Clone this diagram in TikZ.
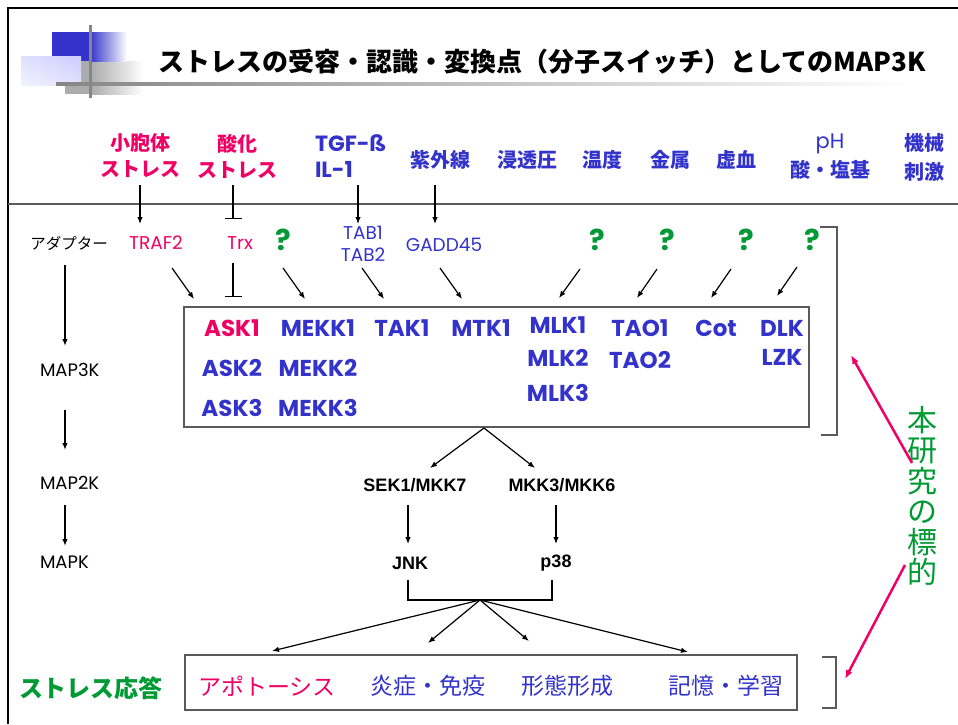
\documentclass[tikz,border=0pt]{standalone}
\usepackage{fontspec}
\setmainfont{Noto Sans CJK JP}
\newfontfamily\jpf{Noto Sans CJK JP}
\newfontfamily\comicf{Poppins}
\newfontfamily\arialf{Liberation Sans}
\usetikzlibrary{arrows.meta,shapes.geometric,shadings}
\definecolor{magc}{RGB}{240,0,100}
\definecolor{bluc}{RGB}{51,51,204}
\definecolor{grnc}{RGB}{0,153,51}
\definecolor{framec}{RGB}{90,90,90}
\tikzset{
  txt/.style={inner sep=0pt, outer sep=0pt},
  stressR/.style={txt, text=magc, align=center, font=\jpf\bfseries\fontsize{20}{26}\selectfont},
  stressB/.style={txt, text=bluc, align=center, font=\jpf\bfseries\fontsize{20}{29}\selectfont},
  adapR/.style={txt, text=magc, align=center, font=\comicf\fontsize{18.5}{22}\selectfont},
  adapB/.style={txt, text=bluc, align=center, font=\comicf\fontsize{18.5}{22}\selectfont},
  qmark/.style={txt, text=grnc, font=\comicf\bfseries\fontsize{29}{30}\selectfont},
  kin/.style={txt, text=bluc, font=\comicf\bfseries\fontsize{23}{24}\selectfont},
  lev/.style={txt, anchor=west, font=\comicf\fontsize{18}{20}\selectfont},
  mkk/.style={txt, font=\arialf\bfseries\fontsize{18}{20}\selectfont},
  resp/.style={txt, font=\jpf\fontsize{23}{26}\selectfont},
  arr/.style={-{Latex[length=7pt,width=5.5pt]}, line width=1.2pt},
  tbar/.style={-{Bar[width=17pt]}, line width=1.2pt},
  pinkarr/.style={-{Latex[length=9pt,width=7pt]}, line width=2.5pt, draw=magc},
  brk/.style={draw=framec, line width=1.5pt},
  kbox/.style={draw=framec, line width=1.5pt, inner sep=0pt},
}
\begin{document}
\begin{tikzpicture}[x=1pt,y=-1pt]
\useasboundingbox (0,0) rectangle (958,724);
% header decoration
\fill[gray!65] (65,61) rectangle (92,94);
\shade[left color=gray!65, right color=white] (92,61) rectangle (143,94);
\fill[bluc] (52,32) rectangle (90,61);
\shade[left color=bluc, right color=white] (90,32) rectangle (127,61);
\shade[lower left=blue!5, upper right=blue!20, lower right=blue!12, upper left=blue!12] (21,56) rectangle (81,85);
\shade[left color=gray!95, right color=white] (56,82.5) rectangle (912,85.5);
\fill[gray!95] (88.5,25) rectangle (91.5,98);
% frame
\draw[line width=2.5pt] (8,724) -- (8,8) -- (958,8);
\draw[line width=1.5pt, draw=framec] (8,204) -- (958,204);
% title
\node[txt, font=\jpf\bfseries\fontsize{26}{30}\selectfont] (title) at (542,62) {ストレスの受容・認識・変換点（分子スイッチ）としてのMAP3K};
% stresses
\node[stressR] (s1) at (140,156) {小胞体\\ストレス};
\node[stressR] (s2) at (237,156) {酸化\\ストレス};
\node[txt, text=bluc, align=left, anchor=west, font=\comicf\bfseries\fontsize{22}{26}\selectfont] (s3) at (315,156) {TGF-ß\\IL-1};
\node[stressB] (s4) at (440,160) {紫外線};
\node[stressB] (s5) at (527,160) {浸透圧};
\node[stressB] (s6) at (602,160) {温度};
\node[stressB] (s7) at (670,160) {金属};
\node[stressB] (s8) at (736,160) {虚血};
\node[stressB] (s9) at (830,157) {{\comicf\mdseries\fontsize{21}{29}\selectfont pH}\\酸・塩基};
\node[stressB] (s10) at (924,157) {機械\\刺激};
% adaptors
\node[txt, font=\jpf\fontsize{15.5}{16}\selectfont] (ad) at (69,243) {アダプター};
\node[adapR] (traf) at (156,243) {TRAF2};
\node[adapR] (trx) at (240,243) {Trx};
\node[qmark] (q1) at (283,240) {?};
\node[adapB] (tab) at (363,244) {TAB1\\TAB2};
\node[adapB] (gadd) at (444,245) {GADD45};
\node[qmark] (q2) at (597,240) {?};
\node[qmark] (q3) at (667,240) {?};
\node[qmark] (q4) at (746,240) {?};
\node[qmark] (q5) at (812,240) {?};
% stress -> adaptor connectors
\coordinate (a1s) at (140,185); \coordinate (a1e) at (140,224);
\coordinate (a2s) at (233,185); \coordinate (a2e) at (233,219);
\coordinate (a3s) at (358,185); \coordinate (a3e) at (358,224);
\coordinate (a4s) at (435,185); \coordinate (a4e) at (435,224);
\draw[arr] (a1s) -- (a1e);
\draw[tbar] (a2s) -- (a2e);
\draw[arr] (a3s) -- (a3e);
\draw[arr] (a4s) -- (a4e);
% MAP3K box
\node[kbox, minimum width=625pt, minimum height=120pt] (box) at (496.5,367) {};
\node[kin, text=magc] (ask1) at (232,328) {ASK1};
\node[kin] (ask2) at (232,368) {ASK2};
\node[kin] (ask3) at (232,408) {ASK3};
\node[kin] (mekk1) at (318,328) {MEKK1};
\node[kin] (mekk2) at (318,368) {MEKK2};
\node[kin] (mekk3) at (318,408) {MEKK3};
\node[kin] (tak) at (402,328) {TAK1};
\node[kin] (mtk) at (481,328) {MTK1};
\node[kin] (mlk1) at (558,325) {MLK1};
\node[kin] (mlk2) at (558,358) {MLK2};
\node[kin] (mlk3) at (558,393) {MLK3};
\node[kin] (tao1) at (640,328) {TAO1};
\node[kin] (tao2) at (640,360) {TAO2};
\node[kin] (cot) at (716,328) {Cot};
\node[kin] (dlk) at (782,328) {DLK};
\node[kin] (lzk) at (782,357) {LZK};
% adaptor -> box connectors
\coordinate (b1s) at (172,268); \coordinate (b1e) at (194,299);
\coordinate (b2s) at (233,263); \coordinate (b2e) at (233,297);
\coordinate (b3s) at (283,268); \coordinate (b3e) at (305,299);
\coordinate (b4s) at (362,268); \coordinate (b4e) at (384,299);
\coordinate (b5s) at (440,268); \coordinate (b5e) at (462,299);
\coordinate (b6s) at (580,269); \coordinate (b6e) at (559,298);
\coordinate (b7s) at (657,269); \coordinate (b7e) at (637,298);
\coordinate (b8s) at (731,269); \coordinate (b8e) at (711,298);
\coordinate (b9s) at (797,267); \coordinate (b9e) at (777,296);
\draw[arr] (b1s) -- (b1e);
\draw[tbar] (b2s) -- (b2e);
\draw[arr] (b3s) -- (b3e);
\draw[arr] (b4s) -- (b4e);
\draw[arr] (b5s) -- (b5e);
\draw[arr] (b6s) -- (b6e);
\draw[arr] (b7s) -- (b7e);
\draw[arr] (b8s) -- (b8e);
\draw[arr] (b9s) -- (b9e);
% right brackets
\draw[brk] (820,227) -- (837,227) -- (837,435) -- (821,435);
\draw[brk] (822,657) -- (836,657) -- (836,708) -- (822,708);
% left level column
\node[lev] (m3) at (40,370) {MAP3K};
\node[lev] (m2) at (40,483) {MAP2K};
\node[lev] (m1) at (40,562) {MAPK};
\coordinate (l1s) at (65,265); \coordinate (l1e) at (65,346);
\coordinate (l2s) at (65,410); \coordinate (l2e) at (65,450);
\coordinate (l3s) at (65,505); \coordinate (l3e) at (65,546);
\draw[arr, line width=1.5pt] (l1s) -- (l1e);
\draw[arr, line width=1.5pt] (l2s) -- (l2e);
\draw[arr, line width=1.5pt] (l3s) -- (l3e);
% MAP2K / MAPK
\node[mkk] (sek) at (415,485) {SEK1/MKK7};
\node[mkk] (mkk3) at (562,485) {MKK3/MKK6};
\node[mkk] (jnk) at (410,563) {JNK};
\node[mkk] (p38) at (556,563) {p38};
\coordinate (apex) at (484,428);
\coordinate (c1) at (430,468); \coordinate (c2) at (535,468);
\draw[arr] (apex) -- (c1);
\draw[arr] (apex) -- (c2);
\coordinate (d1s) at (408,505); \coordinate (d1e) at (408,544);
\coordinate (d2s) at (556,505); \coordinate (d2e) at (556,544);
\draw[arr] (d1s) -- (d1e);
\draw[arr] (d2s) -- (d2e);
\draw[line width=1.2pt] (408,580) -- (408,600) -- (552,600) -- (552,580);
\coordinate (fork) at (480,600);
\coordinate (e1) at (272,651); \coordinate (e2) at (428,643);
\coordinate (e3) at (529,641); \coordinate (e4) at (688,652);
\draw[arr] (fork) -- (e1);
\draw[arr] (fork) -- (e2);
\draw[arr] (fork) -- (e3);
\draw[arr] (fork) -- (e4);
% responses
\node[kbox, minimum width=612pt, minimum height=55pt] (rbox) at (491,682.5) {};
\node[txt, text=grnc, font=\jpf\bfseries\fontsize{24}{26}\selectfont] (sr) at (91,688) {ストレス応答};
\node[resp, text=magc] (r1) at (267,686) {アポトーシス};
\node[resp, text=bluc] (r2) at (428,686) {炎症・免疫};
\node[resp, text=bluc] (r3) at (567,686) {形態形成};
\node[resp, text=bluc] (r4) at (726,686) {記憶・学習};
% target label
\node[txt, text=grnc, align=center, font=\jpf\fontsize{30}{30.5}\selectfont] (tgt) at (922,496) {本\\研\\究\\の\\標\\的};
\coordinate (p1s) at (912,463); \coordinate (p1e) at (851,355);
\coordinate (p2s) at (905,565); \coordinate (p2e) at (845,679);
\draw[pinkarr] (p1s) -- (p1e);
\draw[pinkarr] (p2s) -- (p2e);
\end{tikzpicture}
\end{document}
